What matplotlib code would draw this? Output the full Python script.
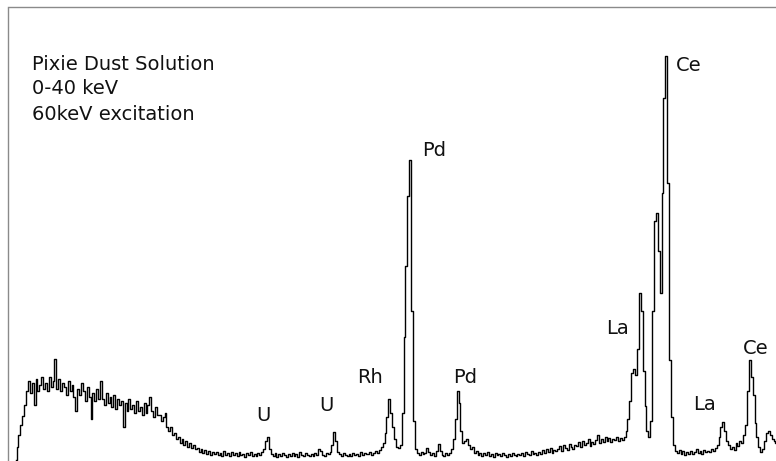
#!/usr/bin/env python3
"""Redraw the Pixie Dust Solution XRF spectrum (0-40 keV, 60 keV excitation) to out.png."""

import numpy as np
import matplotlib
matplotlib.use("Agg")
import matplotlib.pyplot as plt

# counts per 0.1 keV channel, starting at 0.4 keV
counts = [
    1, 14, 26, 36, 45, 56,
    70, 80, 68, 78, 56, 82, 70, 76, 84, 72,
    78, 70, 84, 74, 80, 102, 72, 82, 70, 78,
    74, 66, 80, 70, 76, 64, 50, 72, 66, 78,
    70, 60, 74, 64, 42, 68, 60, 72, 62, 80,
    62, 56, 68, 58, 64, 54, 66, 52, 62, 56,
    60, 34, 58, 50, 62, 52, 56, 48, 60, 50,
    54, 46, 58, 48, 56, 64, 50, 44, 54, 46,
    46, 40, 44, 48, 34, 30, 34, 26, 28, 22,
    24, 18, 22, 16, 20, 14, 18, 13, 16, 12,
    13, 9, 12, 8, 11, 7, 10, 6, 9, 7,
    9, 6, 8, 5, 10, 6, 8, 5, 9, 6,
    8, 5, 9, 6, 7, 4, 8, 6, 9, 5,
    7, 5, 8, 6, 9, 12, 20, 24, 12, 7,
    5, 8, 4, 7, 5, 8, 6, 4, 7, 5,
    8, 5, 7, 4, 9, 6, 5, 8, 6, 5,
    7, 5, 8, 6, 12, 10, 6, 5, 8, 7,
    9, 16, 29, 20, 9, 7, 5, 8, 6, 5,
    7, 5, 8, 6, 7, 5, 9, 6, 8, 7,
    7, 9, 6, 8, 10, 8, 11, 14, 18, 28,
    44, 62, 48, 34, 22, 14, 13, 16, 48, 124,
    195, 265, 301, 150, 40, 12, 8, 6, 9, 7,
    8, 13, 9, 6, 8, 5, 10, 17, 10, 6,
    5, 8, 6, 8, 12, 22, 42, 70, 58, 30,
    18, 20, 22, 16, 12, 14, 8, 10, 6, 8,
    5, 8, 6, 9, 5, 7, 4, 8, 6, 7,
    5, 8, 6, 4, 7, 5, 8, 6, 5, 7,
    6, 8, 5, 9, 7, 6, 10, 7, 8, 6,
    9, 7, 11, 8, 12, 9, 13, 8, 11, 10,
    12, 15, 10, 16, 13, 11, 17, 14, 12, 16,
    15, 19, 14, 20, 16, 18, 22, 15, 19, 17,
    21, 26, 18, 22, 19, 24, 20, 23, 19, 22,
    21, 24, 20, 23, 21, 24, 30, 42, 60, 88,
    92, 86, 112, 168, 150, 90, 55, 30, 24, 40,
    150, 240, 248, 210, 168, 268, 363, 405, 278, 101,
    44, 16, 10, 8, 11, 7, 10, 6, 9, 7,
    10, 7, 9, 12, 8, 10, 7, 11, 9, 10,
    9, 12, 10, 13, 16, 24, 34, 39, 30, 20,
    16, 12, 14, 11, 18, 15, 20, 18, 26, 36,
    70, 101, 84, 66, 38, 24, 14, 9, 12, 20,
    28, 30, 26, 22, 20, 18,
]

# peak labels: text, energy (keV) of left edge, height of text centre
label_text = ["U", "U", "Rh", "Pd", "Pd", "La", "Ce", "La", "Ce"]
label_energy = [13.09, 16.41, 18.41, 21.85, 23.47, 31.54, 35.18, 36.13, 38.76]
label_height = [46, 56, 84, 311, 84, 133, 395, 57, 113]

header = ["Pixie Dust Solution", "0-40 keV", "60keV excitation"]


def main():
    energy = np.linspace(0.4, 40.5, len(counts))

    W, H = 776, 461
    fig = plt.figure(figsize=(W / 100, H / 100), dpi=100)
    ax = fig.add_axes([8 / W, 0, 768 / W, 454 / H])

    ax.plot(energy, counts, color="black", lw=1.0, drawstyle="steps-mid")
    ax.set_xlim(0.0, 40.48)
    ax.set_ylim(0, 454)

    for side in ("bottom", "right"):
        ax.spines[side].set_visible(False)
    for side in ("left", "top"):
        ax.spines[side].set_color("#8a8a8a")
        ax.spines[side].set_linewidth(1.0)
        ax.spines[side].set_linestyle((0, (2, 1)))
    ax.set_xticks([])
    ax.set_yticks([])

    for txt, e, h in zip(label_text, label_energy, label_height):
        ax.text(e, h, txt, ha="left", va="center", fontsize=14, family="DejaVu Sans", color="#111111")

    for i, line in enumerate(header):
        fig.text(32 / W, 1 - (64 + 25 * i) / H, line, ha="left", va="center",
                 fontsize=14, family="DejaVu Sans", color="#111111")

    fig.savefig("out.png", dpi=100)
    plt.close(fig)


if __name__ == "__main__":
    main()
